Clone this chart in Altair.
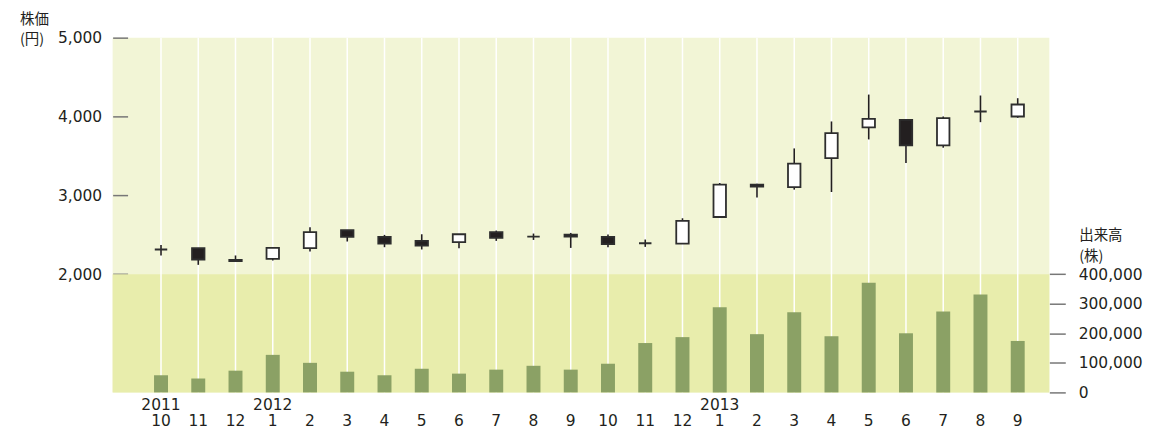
import altair as alt
import pandas as pd

months = ["10", "11", "12", "1", "2", "3", "4", "5", "6", "7", "8", "9",
          "10", "11", "12", "1", "2", "3", "4", "5", "6", "7", "8", "9"]
years = ["2011", "", "", "2012", "", "", "", "", "", "", "", "",
         "", "", "", "2013", "", "", "", "", "", "", "", ""]
open_ = [2313, 2329, 2180, 2194, 2329, 2557, 2472, 2422, 2405, 2532, 2477, 2502,
         2472, 2392, 2388, 2725, 3135, 3105, 3472, 3861, 3958, 3633, 4063, 4000]
high = [2371, 2330, 2237, 2333, 2595, 2557, 2498, 2506, 2506, 2553, 2515, 2523,
        2502, 2439, 2709, 3156, 3148, 3595, 3937, 4278, 3958, 4000, 4266, 4232]
low = [2237, 2118, 2165, 2173, 2287, 2414, 2342, 2313, 2329, 2422, 2434, 2333,
       2342, 2346, 2388, 2717, 2971, 3072, 3042, 3709, 3409, 3604, 3928, 3983]
close = [2313, 2186, 2165, 2333, 2532, 2472, 2388, 2363, 2506, 2460, 2477, 2477,
         2380, 2392, 2675, 3135, 3110, 3401, 3789, 3971, 3633, 3979, 4063, 4152]
volume = [58000, 47000, 73500, 127000, 100000, 70000, 58000, 80000, 63500, 77000, 90000, 77000,
          97000, 167000, 187000, 288000, 197000, 271000, 190000, 371000, 200000, 274000, 331000, 174000]
price_ticks = [2000, 3000, 4000, 5000]
volume_ticks = [0, 100000, 200000, 300000, 400000]

df = pd.DataFrame({
    "i": list(range(len(months))),
    "month": months, "year": years,
    "open": open_, "high": high, "low": low, "close": close, "volume": volume,
})

W, H = 940, 356
TXT = "#231f20"
NUMFONT = "DejaVu Sans"
CJK = "Noto Sans CJK JP"

xscale = alt.Scale(domain=[-1.165, 23.715], nice=False, zero=False)
pscale = alt.Scale(domain=[500, 5000], nice=False, zero=False)
vscale = alt.Scale(domain=[0, 1200000], nice=False)
X = alt.X("i:Q", scale=xscale, axis=None)

base = alt.Chart(df)

bg = alt.Chart(pd.DataFrame({"lvl": [price_ticks[0]]})).mark_rect(color="#e8edac").encode(
    x=alt.value(0), x2=alt.value(W),
    y=alt.Y("lvl:Q", scale=pscale, axis=None), y2=alt.value(H))

grid = base.mark_rule(color="white", strokeWidth=1.5).encode(
    x=X, y=alt.value(0), y2=alt.value(H))

vol = base.mark_bar(color="#8ba165", size=14).encode(
    x=X,
    y=alt.Y("volume:Q", scale=vscale,
            axis=alt.Axis(orient="right", values=volume_ticks, format=",.0f", tickSize=16,
                          labelPadding=13, domain=False, grid=False, title=None)))

wick = base.mark_rule(color=TXT, strokeWidth=1.6).encode(
    x=X,
    y=alt.Y("low:Q", scale=pscale,
            axis=alt.Axis(orient="left", values=price_ticks, format=",.0f", tickSize=15,
                          offset=-15, labelPadding=11, domain=False, grid=False, title=None)),
    y2="high:Q")

body = base.mark_bar(size=12.5, stroke="#2e2e2e", strokeWidth=1.8).encode(
    x=X,
    y=alt.Y("open:Q", scale=pscale, axis=None), y2="close:Q",
    fill=alt.condition("datum.close > datum.open", alt.value("white"), alt.value(TXT)))

month_text = base.mark_text(font=NUMFONT, fontSize=15.5, color=TXT, baseline="alphabetic").encode(
    x=X, y=alt.value(389.5), text="month:N")
year_text = base.mark_text(font=NUMFONT, fontSize=15.5, color=TXT, baseline="alphabetic").encode(
    x=X, y=alt.value(373.7), text="year:N")


def label(t, x, y):
    return alt.Chart(pd.DataFrame({"t": [t]})).mark_text(
        font=CJK, fontSize=14.5, color=TXT, align="left", baseline="alphabetic").encode(
        text="t:N", x=alt.value(x), y=alt.value(y))


labels = [label("株価", -93, -14), label("(円)", -93, 6),
          label("出来高", 970, 203), label("(株)", 970, 224)]

chart = alt.layer(bg, grid, vol, wick, body, month_text, year_text, *labels).resolve_scale(
    y="independent"
).properties(
    width=W, height=H,
    autosize=alt.AutoSizeParams(type="none"),
    padding={"left": 105, "top": 29, "right": 95, "bottom": 45},
).configure_view(fill="#f2f5d6", stroke=None).configure_axis(
    labelFont=NUMFONT, labelFontSize=15.5, labelColor=TXT,
    tickColor="#777777", tickWidth=1.5)

chart.save("out.html", embed_options={"renderer": "svg", "actions": False})
